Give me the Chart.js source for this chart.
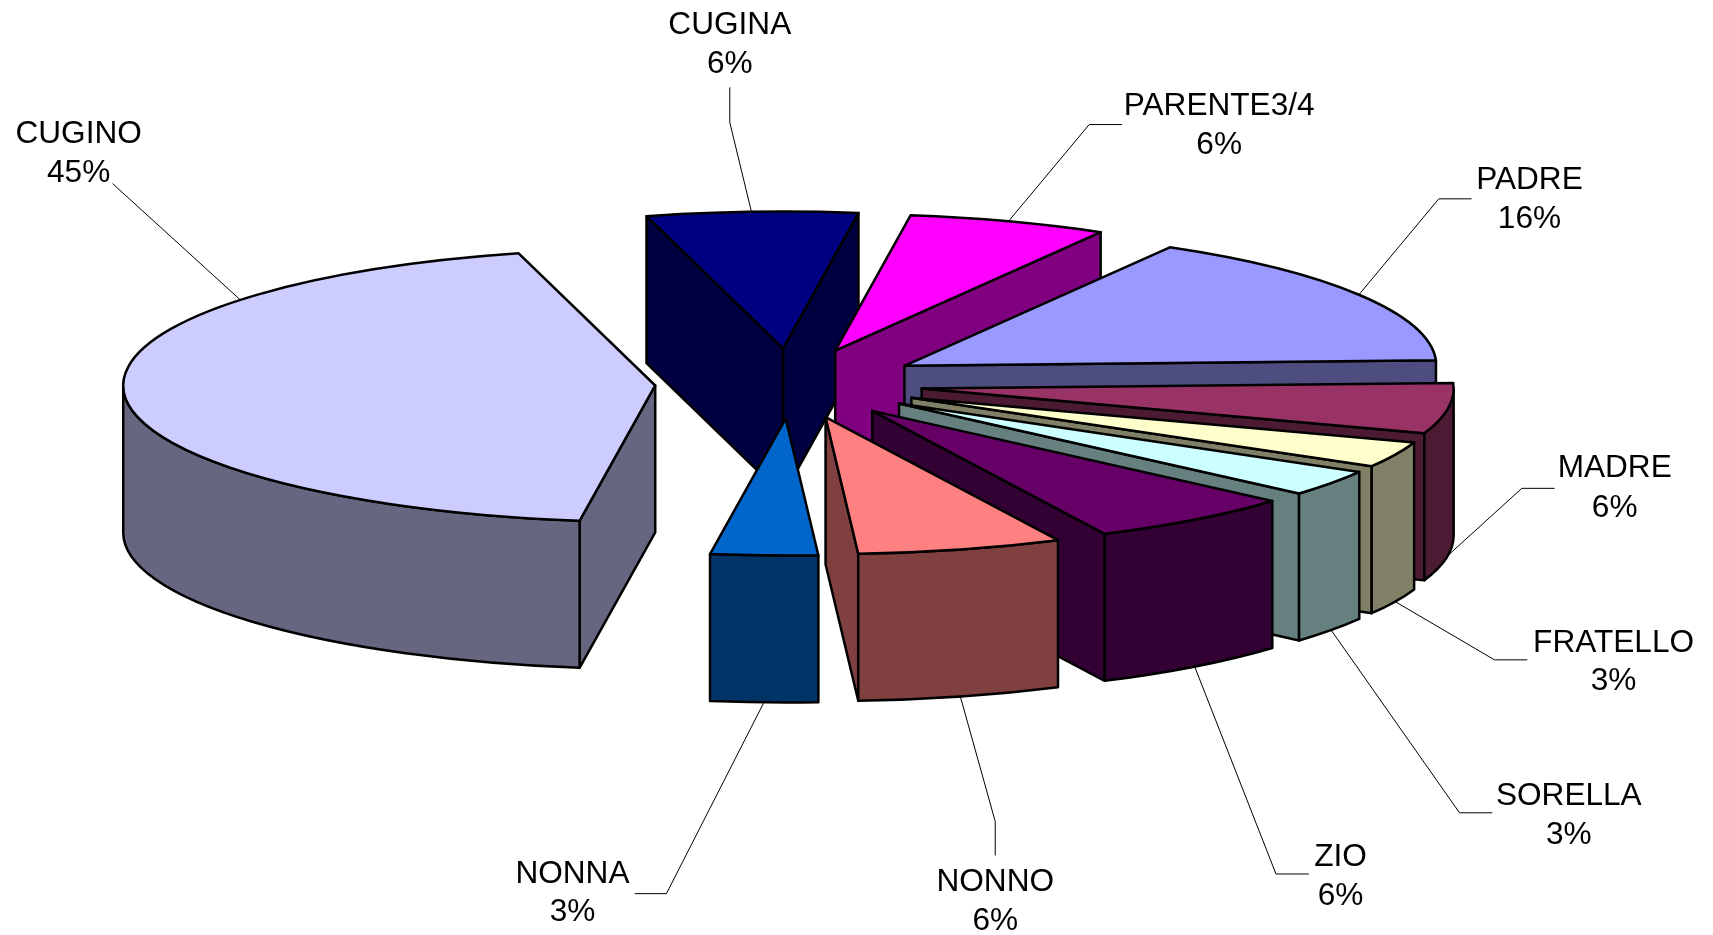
<!DOCTYPE html>
<html>
<head>
<meta charset="utf-8">
<style>
html,body{margin:0;padding:0;background:#fff}
#wrap{position:relative;width:1713px;height:935px}
#wrap canvas{display:block}
</style>
<script src="https://cdn.jsdelivr.net/npm/chart.js@4"></script>
</head>
<body>
<div id="wrap"><canvas id="c"></canvas></div>
<script>
const categories = ['PADRE','MADRE','FRATELLO','SORELLA','ZIO','NONNO','NONNA','CUGINO','CUGINA','PARENTE3/4'];
const percentages = [15.55,5.73,2.95,3,6.2,6.15,3.25,44.8,6.4,5.97];
const sliceColors = ['#9999FF','#993366','#FFFFCC','#CCFFFF','#660066','#FF8080','#0066CC','#CCCCFF','#000080','#FF00FF'];
const explosion = [137,137,137,137,137,137,137,131,137,137];

const SQUASH = 0.257, DEPTH = 147, RADIUS = 532, START_DEG = 31.8, SKEW = 0.0384;
const FONT = '31.6px "Liberation Sans", Arial, sans-serif';
const K = 1713 / 1568;
// Layout of the callouts, measured in the 1568-wide view: label centre, label line y's, leader elbow path, point along the slice edge
const callouts = {
  'PADRE':      {cx:1400, y:[165,201], path:[[1317,182],[1347,182]], along:.5},
  'MADRE':      {cx:1478, y:[429,465], path:[[1393,447],[1423,447]], along:.5},
  'FRATELLO':   {cx:1477, y:[589,624], path:[[1368,604],[1398,604]], along:.5},
  'SORELLA':    {cx:1436, y:[729,765], path:[[1336,744],[1366,744]], along:.5},
  'ZIO':        {cx:1227, y:[785,820], path:[[1168,800],[1198,800]], along:.5},
  'NONNO':      {cx:911,  y:[808,843], path:[[911,752],[911,783]],  along:.5},
  'NONNA':      {cx:524,  y:[800,835], path:[[610,818],[581,818]],  along:.5},
  'CUGINO':     {cx:72,   y:[123,159], path:[[103,168]],            along:.77},
  'CUGINA':     {cx:668,  y:[23,59],   path:[[668,112],[668,80]],   along:.5},
  'PARENTE3/4': {cx:1116, y:[97,133],  path:[[997,114],[1027,114]], along:.5}
};

function darken(hex){
  const n = parseInt(hex.slice(1),16);
  const c = s => Math.round(((n>>s)&255)/2);
  return `rgb(${c(16)},${c(8)},${c(0)})`;
}
// slight view perspective: how a true pie angle lands on the tilted ellipse
const view = t => t + SKEW*Math.sin(t);

class Arc3D extends Chart.ArcElement {
  static id = 'arc3d';
  static defaults = Object.assign({}, Chart.ArcElement.defaults);
  apex(){
    const mid = (this.startAngle+this.endAngle)/2, off = this.options.offset;
    return [this.x + Math.cos(mid)*off, this.y + Math.sin(mid)*off*SQUASH];
  }
  draw(ctx){
    const R = this.outerRadius, o = this.options;
    const a0 = view(this.startAngle), a1 = view(this.endAngle);
    const [ax,ay] = this.apex();
    const px = t => ax + Math.cos(t)*R, py = t => ay + Math.sin(t)*R*SQUASH;
    ctx.save();
    ctx.lineJoin = 'round';
    ctx.lineWidth = o.borderWidth;
    ctx.strokeStyle = o.borderColor;
    ctx.fillStyle = darken(o.backgroundColor);
    const wall = t => {
      ctx.beginPath();
      ctx.moveTo(ax,ay); ctx.lineTo(px(t),py(t));
      ctx.lineTo(px(t),py(t)+DEPTH); ctx.lineTo(ax,ay+DEPTH); ctx.closePath();
      ctx.fill(); ctx.stroke();
    };
    if (Math.cos(a0) < 0) wall(a0);
    if (Math.cos(a1) > 0) wall(a1);
    // outer curved wall: every part lying in the front half of the circle
    const TAU = Math.PI*2;
    for (const k of [-1,0,1]) {
      const s = Math.max(a0, k*TAU), e = Math.min(a1, k*TAU+Math.PI);
      if (e > s) {
        ctx.beginPath();
        ctx.ellipse(ax,ay,R,R*SQUASH,0,s,e);
        ctx.lineTo(px(e),py(e)+DEPTH);
        ctx.ellipse(ax,ay+DEPTH,R,R*SQUASH,0,e,s,true);
        ctx.closePath();
        ctx.fill(); ctx.stroke();
      }
    }
    // top face
    ctx.fillStyle = o.backgroundColor;
    ctx.beginPath();
    ctx.moveTo(ax,ay);
    ctx.ellipse(ax,ay,R,R*SQUASH,0,a0,a1);
    ctx.closePath();
    ctx.fill(); ctx.stroke();
    ctx.restore();
  }
}
class Pie3DController extends Chart.PieController {
  static id = 'pie3d';
  static defaults = {dataElementType:'arc3d'};
  draw(){
    const ctx = this.chart.ctx;
    const arcs = this._cachedMeta.data.slice();
    const depth = a => Math.sin((a.startAngle+a.endAngle)/2);
    arcs.sort((p,q)=>depth(p)-depth(q));
    arcs.forEach(a=>a.draw(ctx));
  }
}
Chart.register(Arc3D, Pie3DController);

const calloutPlugin = {
  id:'callouts',
  afterDatasetsDraw(chart){
    const ctx = chart.ctx, meta = chart.getDatasetMeta(0);
    const total = percentages.reduce((s,v)=>s+v,0);
    ctx.save();
    meta.data.forEach((arc,i)=>{
      const c = callouts[categories[i]];
      const mid = (arc.startAngle+arc.endAngle)/2;
      const t = view(arc.startAngle + (arc.endAngle-arc.startAngle)*c.along);
      const [ax,ay] = arc.apex();
      const sx = ax + Math.cos(t)*arc.outerRadius;
      let sy = ay + Math.sin(t)*arc.outerRadius*SQUASH;
      if (Math.sin(t) > 0 && Math.sin(mid) > 0.05) sy += DEPTH;
      ctx.strokeStyle = '#000'; ctx.lineWidth = 1;
      ctx.beginPath(); ctx.moveTo(sx,sy);
      c.path.forEach(p=>ctx.lineTo(p[0]*K,p[1]*K));
      ctx.stroke();
      ctx.fillStyle = '#000'; ctx.font = FONT;
      ctx.textAlign = 'center'; ctx.textBaseline = 'middle';
      ctx.fillText(categories[i], c.cx*K, c.y[0]*K);
      ctx.fillText(Math.round(percentages[i]/total*100)+'%', c.cx*K, c.y[1]*K);
    });
    ctx.restore();
  }
};

new Chart(document.getElementById('c'), {
  type:'pie3d',
  data:{labels:categories, datasets:[{
    data:percentages,
    backgroundColor:sliceColors,
    borderColor:'#000',
    borderWidth:2.5,
    offset:explosion
  }]},
  options:{
    responsive:true, maintainAspectRatio:false, animation:false, events:[],
    rotation:START_DEG, radius:RADIUS,
    layout:{padding:{left:0,top:0,right:141,bottom:168}},
    plugins:{legend:{display:false},tooltip:{enabled:false}}
  },
  plugins:[calloutPlugin]
});
</script>
</body>
</html>
